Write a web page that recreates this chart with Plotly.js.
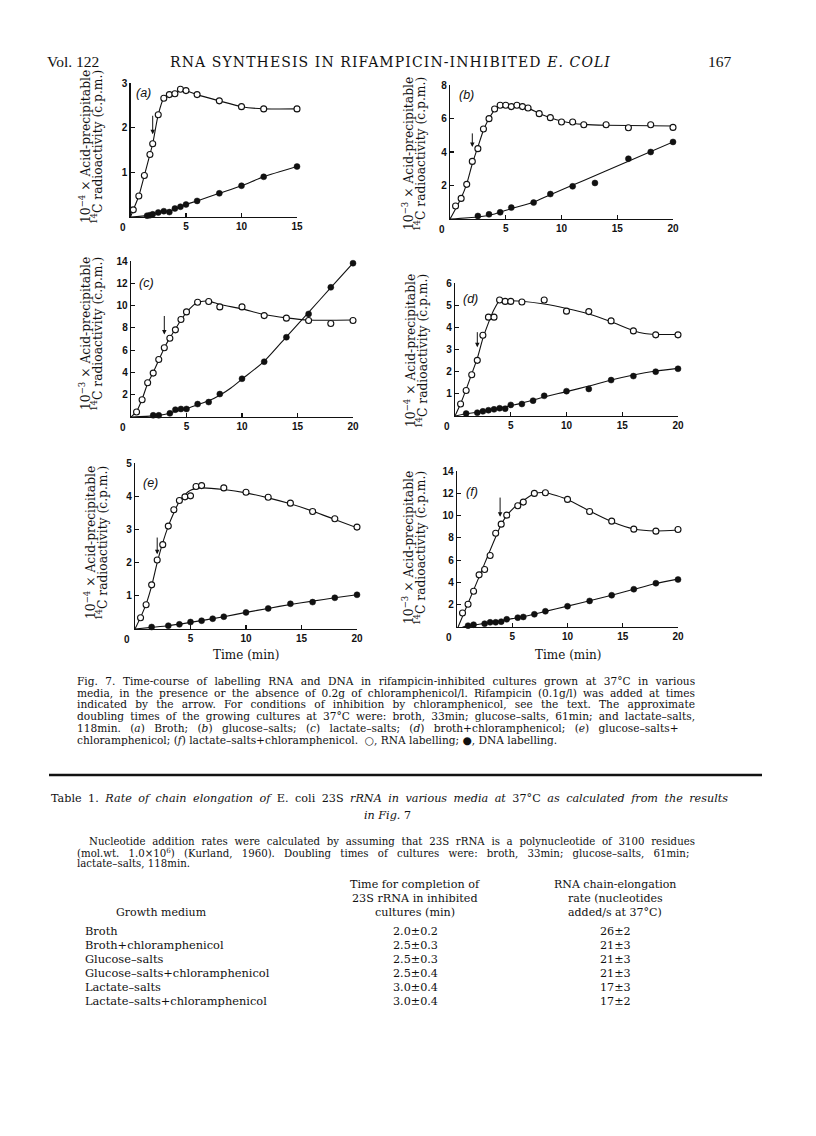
<!DOCTYPE html>
<html><head><meta charset="utf-8">
<script src="https://cdn.plot.ly/plotly-3.0.1.min.js"></script>
<style>html,body{margin:0;padding:0;background:#fff}</style>
</head><body>
<div id="chart" style="width:816px;height:1136px"></div>
<script>
// ---------- DATA ----------
// (a) Broth
const timeA_RNA = [0.25,0.75,1.25,1.75,2.0,2.5,3.0,3.5,4.0,4.5,5.0,6,8,10,12,15];
const rnaA      = [0.16,0.47,0.93,1.40,1.64,2.29,2.66,2.74,2.76,2.86,2.83,2.74,2.60,2.47,2.42,2.42];
const timeA_DNA = [1.5,1.75,2.0,2.5,3.0,3.5,4.0,4.5,5.0,6,8,10,12,15];
const dnaA      = [0.03,0.04,0.06,0.10,0.13,0.11,0.19,0.23,0.28,0.36,0.53,0.70,0.90,1.13];
const fitA_RNA_t = [0,0.25,0.75,1.25,1.75,2.0,2.5,3.0,3.5,4.0,4.5,5.0,6,8,10,12,15];
const fitA_RNA_v = [0,0.16,0.47,0.93,1.40,1.64,2.29,2.66,2.74,2.76,2.86,2.83,2.74,2.60,2.47,2.42,2.42];
const fitA_DNA_t = [0,1.5,2.0,2.5,3.0,3.5,4.0,4.5,5.0,6,8,10,12,15];
const fitA_DNA_v = [0,0.03,0.06,0.10,0.13,0.12,0.19,0.23,0.28,0.36,0.53,0.70,0.90,1.13];

// (b) Glucose-salts
const timeB_RNA = [0.5,1,1.5,2,2.5,3,3.5,4,4.5,5,5.5,6,6.5,7,8,9,10,11,12,14,16,18,20];
const rnaB      = [0.78,1.23,2.07,3.44,4.2,5.37,5.99,6.57,6.79,6.79,6.71,6.79,6.71,6.63,6.29,6.05,5.79,5.79,5.63,5.63,5.45,5.63,5.47];
const timeB_DNA = [2.5,3.5,4.5,5.5,7.5,9,11,13,16,18,20];
const dnaB      = [0.18,0.28,0.4,0.68,0.98,1.49,1.95,2.15,3.6,4.0,4.6];
const fitB_RNA_t = [0,0.5,1,1.5,2,2.5,3,3.5,4,4.5,5,6,7,8,9,10,11,12,14,20];
const fitB_RNA_v = [0,0.6,1.25,2.1,3.3,4.3,5.3,6.0,6.5,6.75,6.78,6.75,6.62,6.3,6.05,5.85,5.72,5.65,5.6,5.55];
const fitB_DNA_t = [0,2.5,4,5.5,7.5,9,12,16,20];
const fitB_DNA_v = [0,0.12,0.3,0.62,1.0,1.45,2.3,3.45,4.6];

// (c) Lactate-salts
const timeC_RNA = [0.5,1,1.5,2,2.5,3,3.5,4,4.5,5,6,7,8,10,12,14,16,18,20];
const rnaC      = [0.45,1.55,3.07,3.94,5.16,6.21,7.07,7.82,8.75,9.43,10.3,10.36,9.88,9.88,9.1,8.87,8.66,8.39,8.66];
const timeC_DNA = [2,2.5,3.5,4,4.5,5,6,7,8,10,12,14,16,18,20];
const dnaC      = [0.15,0.15,0.33,0.66,0.72,0.72,1.16,1.34,2.06,3.43,4.96,7.16,9.25,11.64,13.8];
const fitC_RNA_t = [0,0.5,1,1.5,2,2.5,3,3.5,4,4.5,5,6,7,8,10,12,14,16,20];
const fitC_RNA_v = [0,0.5,1.6,3.0,4.0,5.1,6.2,7.1,7.9,8.7,9.4,10.3,10.4,10.1,9.7,9.2,8.9,8.7,8.7];
const fitC_DNA_t = [0,2,3,4,5,6,7,8,9,10,12,14,16,18,20];
const fitC_DNA_v = [0,0.1,0.22,0.5,0.75,1.1,1.45,1.95,2.6,3.4,5.0,7.2,9.4,11.6,13.8];

// (d) Broth + chloramphenicol
const timeD_RNA = [0.5,1,1.5,2,2.5,3,3.5,4,4.5,5,6,8,10,12,14,16,18,20];
const rnaD      = [0.54,1.15,1.86,2.51,3.64,4.46,4.46,5.23,5.17,5.17,5.14,5.23,4.73,4.71,4.29,3.84,3.66,3.66];
const timeD_DNA = [1,2,2.5,3,3.5,4,4.5,5,6,7,8,10,12,14,16,18,20];
const dnaD      = [0.11,0.15,0.21,0.26,0.3,0.35,0.33,0.5,0.54,0.69,0.91,1.12,1.22,1.62,1.8,2.0,2.13];
const fitD_RNA_t = [0,0.5,1,1.5,2,2.5,3,3.5,4,5,6,8,10,12,14,16,17,18,20];
const fitD_RNA_v = [0,0.55,1.2,1.9,2.6,3.5,4.2,4.8,5.2,5.2,5.18,5.05,4.85,4.6,4.25,3.85,3.72,3.68,3.68];
const fitD_DNA_t = [0,1,2,3,4,5,6,8,10,12,14,16,18,20];
const fitD_DNA_v = [0,0.1,0.17,0.27,0.36,0.47,0.58,0.86,1.1,1.35,1.62,1.85,2.03,2.15];

// (e) Glucose-salts + chloramphenicol
const timeE_RNA = [0.5,1,1.5,2,2.5,3,3.5,4,4.5,5,5.5,6,8,10,12,14,16,18,20];
const rnaE      = [0.34,0.73,1.33,2.08,2.54,3.1,3.59,3.87,3.98,4.01,4.29,4.32,4.25,4.12,3.97,3.79,3.54,3.32,3.07];
const timeE_DNA = [1.5,3,4,5,6,7,8,10,12,14,16,18,20];
const dnaE      = [0.06,0.1,0.14,0.21,0.25,0.31,0.37,0.5,0.62,0.76,0.81,0.94,1.03];
const fitE_RNA_t = [0,0.5,1,1.5,2,2.5,3,3.5,4,4.5,5,6,8,10,12,14,16,18,20];
const fitE_RNA_v = [0,0.35,0.75,1.3,2.0,2.6,3.1,3.5,3.85,4.05,4.18,4.25,4.2,4.1,3.95,3.77,3.55,3.3,3.05];
const fitE_DNA_t = [0,1.5,3,5,8,10,12,14,16,18,20];
const fitE_DNA_v = [0,0.05,0.1,0.2,0.37,0.5,0.62,0.74,0.84,0.94,1.03];

// (f) Lactate-salts + chloramphenicol
const timeF_RNA = [0.5,1,1.5,2,2.5,3,3.5,4,4.5,5.5,6,7,8,10,12,14,16,18,20];
const rnaF      = [1.26,2.04,3.21,4.68,5.16,6.41,8.42,9.23,10.04,10.88,11.21,11.99,12.05,11.45,10.37,9.5,8.78,8.6,8.75];
const timeF_DNA = [1,1.5,2.5,3,3.5,4,4.5,5.5,6,7,8,10,12,14,16,18,20];
const dnaF      = [0.12,0.21,0.3,0.42,0.42,0.48,0.69,0.84,0.9,1.14,1.41,1.86,2.34,2.85,3.39,3.93,4.26];
const fitF_RNA_t = [0.1,2,4,4.5,5.5,7,8,10,12,14,16,18,20];
const fitF_RNA_v = [0,4.5,9.2,10.0,11.0,11.95,12.05,11.45,10.4,9.45,8.8,8.62,8.7];
const fitF_DNA_t = [0.5,1,2,3,4,5,6,8,10,12,14,16,18,20];
const fitF_DNA_v = [0,0.1,0.25,0.4,0.55,0.75,0.93,1.4,1.87,2.35,2.85,3.38,3.9,4.3];

// Rifampicin addition arrows (time, arrow tip value, arrow tail value)
const arrowTime = [2.0, 2.0, 3.0, 2.0, 2.0, 3.9];
const arrowTip  = [1.85, 4.3, 7.4, 3.1, 2.25, 9.9];
const arrowTail = [2.3, 5.2, 9.2, 3.85, 2.8, 11.75];

// Tick labels
const xTicksA = [5,10,15];
const xTicks20 = [5,10,15,20];
const yTicksA = [1,2,3];
const yTicksB = [2,4,6,8];
const yTicksC = [2,4,6,8,10,12,14];
const yTicksD = [1,2,3,4,5,6];
const yTicksE = [1,2,3,4,5];
const yTicksF = [2,4,6,8,10,12,14];
const panelLetters = ['(a)','(b)','(c)','(d)','(e)','(f)'];
const scaleFactors = ['10<sup>−4</sup>','10<sup>−3</sup>','10<sup>−3</sup>','10<sup>−4</sup>','10<sup>−4</sup>','10<sup>−3</sup>'];
const yTitleLine1 = ' × Acid-precipitable';
const yTitleLine2 = '<sup>14</sup>C radioactivity (c.p.m.)';
const xTitle = 'Time (min)';

// Page text
const captionLines = [
  'Fig. 7.  Time-course of labelling RNA and DNA in rifampicin-inhibited cultures grown at 37°C in various',
  'media, in the presence or the absence of 0.2g of chloramphenicol/l.  Rifampicin (0.1g/l) was added at times',
  'indicated by the arrow.  For conditions of inhibition by chloramphenicol, see the text.  The approximate',
  'doubling times of the growing cultures at 37°C were: broth, 33min; glucose–salts, 61min; and lactate–salts,',
  '118min.  (<i>a</i>) Broth; (<i>b</i>) glucose–salts; (<i>c</i>) lactate–salts; (<i>d</i>) broth+chloramphenicol; (<i>e</i>) glucose–salts+',
  'chloramphenicol; (<i>f</i>) lactate–salts+chloramphenicol.  ○, RNA labelling; ●, DNA labelling.'
];
const tableTitle1 = 'Table 1.  <i>Rate of chain elongation of</i> E. coli 23S <i>rRNA in various media at</i> 37°C <i>as calculated from the results</i>';
const tableTitle2 = '<i>in Fig.</i> 7';
const noteLines = [
  'Nucleotide addition rates were calculated by assuming that 23S rRNA is a polynucleotide of 3100 residues',
  '(mol.wt. 1.0×10<sup>6</sup>) (Kurland, 1960).  Doubling times of cultures were: broth, 33min; glucose–salts, 61min;',
  'lactate–salts, 118min.'
];
const colHeads2 = ['Time for completion of','23S rRNA in inhibited','cultures (min)'];
const colHeads3 = ['RNA chain-elongation','rate (nucleotides','added/s at 37°C)'];
const colHead1 = 'Growth medium';
const media = ['Broth','Broth+chloramphenicol','Glucose–salts','Glucose–salts+chloramphenicol','Lactate–salts','Lactate–salts+chloramphenicol'];
const completionTime = ['2.0±0.2','2.5±0.3','2.5±0.3','2.5±0.4','3.0±0.4','3.0±0.4'];
const elongationRate = ['26±2','21±3','21±3','21±3','17±3','17±2'];

// ---------- LAYOUT ----------
const W = 816, H = 1136;
const px = v => v / W;
const py = v => 1 - v / H;

const panels = [
  {rt:timeA_RNA, rv:rnaA, dt:timeA_DNA, dv:dnaA, frt:fitA_RNA_t, frv:fitA_RNA_v, fdt:fitA_DNA_t, fdv:fitA_DNA_v,
   xmax:15, ymax:3, xt:xTicksA, yt:yTicksA, box:[130.5,297,217,83], lab:[85,97,147], let:[143,93], xlabel:false},
  {rt:timeB_RNA, rv:rnaB, dt:timeB_DNA, dv:dnaB, frt:fitB_RNA_t, frv:fitB_RNA_v, fdt:fitB_DNA_t, fdv:fitB_DNA_v,
   xmax:20, ymax:8, xt:xTicks20, yt:yTicksB, box:[450,673,219,85], lab:[408,420,154], let:[466,95], xlabel:false},
  {rt:timeC_RNA, rv:rnaC, dt:timeC_DNA, dv:dnaC, frt:fitC_RNA_t, frv:fitC_RNA_v, fdt:fitC_DNA_t, fdv:fitC_DNA_v,
   xmax:20, ymax:14, xt:xTicks20, yt:yTicksC, box:[131,353,417,261], lab:[85,97,334], let:[146,283], xlabel:false},
  {rt:timeD_RNA, rv:rnaD, dt:timeD_DNA, dv:dnaD, frt:fitD_RNA_t, frv:fitD_RNA_v, fdt:fitD_DNA_t, fdv:fitD_DNA_v,
   xmax:20, ymax:6, xt:xTicks20, yt:yTicksD, box:[455,678,416,283], lab:[410,422,351], let:[471,299], xlabel:false},
  {rt:timeE_RNA, rv:rnaE, dt:timeE_DNA, dv:dnaE, frt:fitE_RNA_t, frv:fitE_RNA_v, fdt:fitE_DNA_t, fdv:fitE_DNA_v,
   xmax:20, ymax:5, xt:xTicks20, yt:yTicksE, box:[135,357,629,463], lab:[90,102,543], let:[150,483], xlabel:true},
  {rt:timeF_RNA, rv:rnaF, dt:timeF_DNA, dv:dnaF, frt:fitF_RNA_t, frv:fitF_RNA_v, fdt:fitF_DNA_t, fdv:fitF_DNA_v,
   xmax:20, ymax:14, xt:xTicks20, yt:yTicksF, box:[457,678,627,471], lab:[408,420,548], let:[472,492], xlabel:true}
];

const tickFont = {family:'Liberation Sans, Arial, sans-serif', size:10, color:'#111', weight:'bold'};
const serif = 'DejaVu Serif, serif';
const traces = [];
const layout = {
  width: W, height: H, margin:{l:0,r:0,t:0,b:0},
  paper_bgcolor:'#fff', plot_bgcolor:'rgba(0,0,0,0)',
  showlegend:false, annotations:[], shapes:[]
};

panels.forEach((p, i) => {
  const n = i + 1;
  const xa = n === 1 ? 'x' : 'x' + n, ya = n === 1 ? 'y' : 'y' + n;
  const xk = n === 1 ? 'xaxis' : 'xaxis' + n, yk = n === 1 ? 'yaxis' : 'yaxis' + n;
  layout[xk] = {domain:[px(p.box[0]), px(p.box[1])], anchor: ya, range:[0, p.xmax],
    showline:true, linecolor:'#111', linewidth:1.3, ticks:'inside', ticklen:4, tickwidth:1.2, tickcolor:'#111',
    tickvals:p.xt, ticktext:p.xt.map(String), tickfont:tickFont, showgrid:false, zeroline:false, fixedrange:true};
  layout[yk] = {domain:[py(p.box[2]), py(p.box[3])], anchor: xa, range:[0, p.ymax],
    showline:true, linecolor:'#111', linewidth:1.3, ticks:'inside', ticklen:4, tickwidth:1.2, tickcolor:'#111',
    tickvals:p.yt, ticktext:p.yt.map(String), tickfont:tickFont, showgrid:false, zeroline:false, fixedrange:true};
  traces.push({x:p.frt, y:p.frv, xaxis:xa, yaxis:ya, mode:'lines', line:{color:'#111', width:1.1, shape:'spline', smoothing:0.6}, hoverinfo:'skip'});
  traces.push({x:p.fdt, y:p.fdv, xaxis:xa, yaxis:ya, mode:'lines', line:{color:'#111', width:1.1, shape:'spline', smoothing:0.6}, hoverinfo:'skip'});
  traces.push({x:p.rt, y:p.rv, xaxis:xa, yaxis:ya, mode:'markers', cliponaxis:false,
    marker:{symbol:'circle', size:6, color:'#fff', line:{color:'#111', width:1.1}}, name:'RNA labelling'});
  traces.push({x:p.dt, y:p.dv, xaxis:xa, yaxis:ya, mode:'markers', cliponaxis:false,
    marker:{symbol:'circle', size:6, color:'#111', line:{color:'#111', width:0.5}}, name:'DNA labelling'});
  layout.annotations.push({text:'0', xref:xa, yref:ya, x:0, y:0, xanchor:'center', yanchor:'top', xshift:-8, yshift:-3,
    showarrow:false, font:tickFont});
  layout.annotations.push({text:'', xref:xa, yref:ya, x:arrowTime[i], y:arrowTip[i], axref:xa, ayref:ya,
    ax:arrowTime[i], ay:arrowTail[i], showarrow:true, arrowhead:2, arrowsize:0.9, arrowwidth:1, arrowcolor:'#111', standoff:0});
  layout.annotations.push({text:'<i>' + panelLetters[i] + '</i>', xref:'paper', yref:'paper', x:px(p.let[0]), y:py(p.let[1]),
    xanchor:'center', yanchor:'middle', showarrow:false, font:{family:'Liberation Sans, Arial, sans-serif', size:12.5, color:'#111'}});
  layout.annotations.push({text:scaleFactors[i] + yTitleLine1, xref:'paper', yref:'paper', x:px(p.lab[0]), y:py(p.lab[2]),
    xanchor:'center', yanchor:'middle', textangle:-90, showarrow:false, font:{family:serif, size:12.3, color:'#111'}});
  layout.annotations.push({text:yTitleLine2, xref:'paper', yref:'paper', x:px(p.lab[1]), y:py(p.lab[2]),
    xanchor:'center', yanchor:'middle', textangle:-90, showarrow:false, font:{family:serif, size:12.3, color:'#111'}});
  if (p.xlabel) {
    layout.annotations.push({text:xTitle, xref:'paper', yref:'paper', x:px((p.box[0]+p.box[1])/2), y:py(655),
      xanchor:'center', yanchor:'middle', showarrow:false, font:{family:serif, size:12, color:'#111'}});
  }
});

// ---------- PAGE TEXT (with simple justification) ----------
const mctx = document.createElement('canvas').getContext('2d');
function natWidth(s, size, italic) {
  mctx.font = (italic ? 'italic ' : '') + size + 'px "DejaVu Serif"';
  return mctx.measureText(s.replace(/<[^>]+>/g, '').replace(/ {2,}/g, ' ')).width;
}
function justify(s, size, target, italic) {
  const plain = s.replace(/<[^>]+>/g, '').replace(/ {2,}/g, ' ');
  const nSp = (plain.match(/ /g) || []).length;
  const w = natWidth(s, size, italic);
  let ws = nSp ? (target - w) / nSp : 0;
  ws = Math.max(-1, Math.min(6, ws));
  return '<span style="word-spacing:' + ws.toFixed(2) + 'px">' + s.replace(/ {2,}/g, ' ') + '</span>';
}
function txt(s, x, y, opts) {
  opts = opts || {};
  layout.annotations.push({text:s, xref:'paper', yref:'paper', x:px(x), y:py(y),
    xanchor:opts.anchor || 'left', yanchor:'middle', showarrow:false, align:'left',
    font:{family:opts.family || serif, size:opts.size || 10.8, color:'#111'}});
}
// running header
txt('Vol. 122', 45, 62, {family:'Liberation Serif, serif', size:15.5});
txt('<span style="letter-spacing:1.1px">RNA SYNTHESIS IN RIFAMPICIN-INHIBITED <i>E. COLI</i></span>', 390, 62, {size:14, anchor:'center'});
txt('167', 734, 62, {family:'Liberation Serif, serif', size:15.5, anchor:'right'});

// caption (justified to x = 75..693)
const capSize = 10.6;
const captionY = [681, 692.7, 704.4, 716.1, 727.8, 739.5];
captionLines.forEach((s, k) => {
  const t = k < captionLines.length - 1 ? justify(s, capSize, 618, false) : s;
  txt(t, 75, captionY[k], {size:capSize});
});

// rule
layout.shapes.push({type:'line', xref:'paper', yref:'paper', x0:px(49), x1:px(762), y0:py(775), y1:py(775), line:{color:'#111', width:2.5}});

// table title and note
txt(justify(tableTitle1, 11.2, 677, true), 49, 798, {size:11.2});
txt(tableTitle2, 387, 815, {size:11.2, anchor:'center'});
const noteSize = 10.2;
const noteX = [87, 75, 75];
const noteY = [841, 852.3, 863.6];
noteLines.forEach((s, k) => {
  const t = k < 2 ? justify(s, noteSize, 693 - noteX[k], false) : s;
  txt(t, noteX[k], noteY[k], {size:noteSize});
});

// table
const headY = [884, 898, 912];
colHeads2.forEach((s,k) => txt(s, 415, headY[k], {anchor:'center', size:11.2}));
colHeads3.forEach((s,k) => txt(s, 615, headY[k], {anchor:'center', size:11}));
txt(colHead1, 161, 912, {anchor:'center', size:11});
const rowY = [931, 945, 959, 973, 987, 1001];
media.forEach((m,k) => {
  txt(m, 83, rowY[k], {size:11.4});
  txt(completionTime[k], 415, rowY[k], {anchor:'center', size:11.2});
  txt(elongationRate[k], 615, rowY[k], {anchor:'center', size:11.2});
});

Plotly.newPlot('chart', traces, layout, {staticPlot:true, displayModeBar:false});
</script>
</body></html>
